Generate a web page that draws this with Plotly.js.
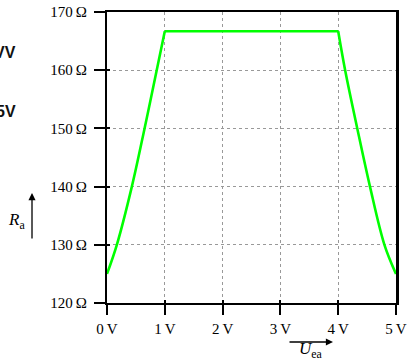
<!DOCTYPE html>
<html>
<head>
<meta charset="utf-8">
<script src="https://cdn.plot.ly/plotly-3.0.1.min.js"></script>
<style>html,body{margin:0;padding:0;background:#fff;}#chart{width:408px;height:360px;}</style>
</head>
<body>
<div id="chart"></div>
<script>
// Data
const uea = [0, 0.17, 0.43, 0.65, 0.86, 1.0, 4.0, 4.12, 4.33, 4.55, 4.8, 5.0];
const ra  = [125, 130, 140, 150, 160, 166.7, 166.7, 160, 150, 140, 130, 125];
const xTickVals = [0, 1, 2, 3, 4, 5];
const xTickText = ['0\u2009V', '1\u2009V', '2\u2009V', '3\u2009V', '4\u2009V', '5\u2009V'];
const yTickVals = [120, 130, 140, 150, 160, 170];
const yTickText = ['120\u2009\u03A9', '130\u2009\u03A9', '140\u2009\u03A9', '150\u2009\u03A9', '160\u2009\u03A9', '170\u2009\u03A9'];

const serif = 'Liberation Serif, DejaVu Serif, serif';
const tickFont = {family: serif, size: 15, color: '#000'};
const lineStyle = {color: '#00ff00', width: 2.6};

// rising flank, plateau, falling flank (flanks are curved, plateau straight)
const traces = [
  {x: uea.slice(0, 6), y: ra.slice(0, 6), type: 'scatter', mode: 'lines',
   line: Object.assign({shape: 'spline', smoothing: 1}, lineStyle), cliponaxis: false, hoverinfo: 'skip', showlegend: false},
  {x: uea.slice(5, 7), y: ra.slice(5, 7), type: 'scatter', mode: 'lines',
   line: lineStyle, cliponaxis: false, hoverinfo: 'skip', showlegend: false},
  {x: uea.slice(6), y: ra.slice(6), type: 'scatter', mode: 'lines',
   line: Object.assign({shape: 'spline', smoothing: 1}, lineStyle), cliponaxis: false, hoverinfo: 'skip', showlegend: false}
];

const layout = {
  width: 408, height: 360,
  margin: {l: 107, r: 12, t: 12, b: 57, pad: 0},
  paper_bgcolor: '#fff', plot_bgcolor: '#fff',
  showlegend: false,
  xaxis: {
    range: [0, 5], fixedrange: true,
    tickvals: xTickVals, ticktext: xTickText,
    ticks: 'outside', ticklen: 10, tickwidth: 2, tickcolor: '#000',
    showline: true, linewidth: 2.2, linecolor: '#000',
    showgrid: true, gridcolor: '#999', gridwidth: 1, griddash: '3px,3px',
    zeroline: false, tickfont: tickFont, ticklabelstandoff: 1
  },
  yaxis: {
    range: [120, 170], fixedrange: true,
    tickvals: yTickVals, ticktext: yTickText,
    ticks: 'outside', ticklen: 11, tickwidth: 2, tickcolor: '#000',
    showline: true, linewidth: 2.2, linecolor: '#000',
    showgrid: true, gridcolor: '#999', gridwidth: 1, griddash: '3px,3px',
    zeroline: false, tickfont: tickFont, ticklabelstandoff: 4
  },
  xaxis2: {
    overlaying: 'x', side: 'top', range: [0, 5], fixedrange: true,
    showline: true, linewidth: 1.7, linecolor: '#000',
    showgrid: false, zeroline: false, showticklabels: false, ticks: ''
  },
  yaxis2: {
    overlaying: 'y', side: 'right', range: [120, 170], fixedrange: true,
    showline: true, linewidth: 3, linecolor: '#000',
    showgrid: false, zeroline: false, showticklabels: false, ticks: ''
  },
  yaxis3: {
    overlaying: 'y', side: 'left', range: [120, 170], fixedrange: true,
    tickvals: yTickVals, ticks: 'inside', ticklen: 3, tickwidth: 2, tickcolor: '#000',
    showline: false, showgrid: false, zeroline: false, showticklabels: false
  },
  xaxis3: {
    overlaying: 'x', side: 'bottom', range: [0, 5], fixedrange: true,
    tickvals: xTickVals, ticks: 'inside', ticklen: 3, tickwidth: 2, tickcolor: '#000',
    showline: false, showgrid: false, zeroline: false, showticklabels: false
  },
  annotations: [
    {xref: 'paper', yref: 'paper', x: -0.2595, y: 0.378, text: '', showarrow: true,
     axref: 'pixel', ayref: 'pixel', ax: 0, ay: 47, arrowhead: 2, arrowsize: 1.1, arrowwidth: 1.3, arrowcolor: '#000'},
    {xref: 'paper', yref: 'paper', x: -0.313, y: 0.283, xanchor: 'center', yanchor: 'middle',
     text: '<i>R</i><sub>a</sub>', showarrow: false, font: {family: serif, size: 17, color: '#000'}},
    {xref: 'paper', yref: 'paper', x: 0.782, y: -0.134, text: '', showarrow: true,
     axref: 'pixel', ayref: 'pixel', ax: -45, ay: 0, arrowhead: 2, arrowsize: 1.1, arrowwidth: 1.3, arrowcolor: '#000'},
    {xref: 'paper', yref: 'paper', x: 0.705, y: -0.161, xanchor: 'center', yanchor: 'middle',
     text: '<i>U</i><sub>ea</sub>', showarrow: false, font: {family: serif, size: 17, color: '#000'}},
    {xref: 'paper', yref: 'paper', x: -0.307, y: 0.861, xanchor: 'right', yanchor: 'middle',
     text: '<b>VV</b>', showarrow: false, font: {family: 'Liberation Sans, Arial, sans-serif', size: 16, color: '#111'}},
    {xref: 'paper', yref: 'paper', x: -0.307, y: 0.658, xanchor: 'right', yanchor: 'middle',
     text: '<b>5V</b>', showarrow: false, font: {family: 'Liberation Sans, Arial, sans-serif', size: 16, color: '#111'}}
  ]
};

// invisible anchors so the overlay axes are drawn
traces.push({x: [0], y: [120], xaxis: 'x2', yaxis: 'y2', mode: 'markers', marker: {opacity: 0}, hoverinfo: 'skip', showlegend: false, type: 'scatter'});
traces.push({x: [0], y: [120], xaxis: 'x3', yaxis: 'y3', mode: 'markers', marker: {opacity: 0}, hoverinfo: 'skip', showlegend: false, type: 'scatter'});

Plotly.newPlot('chart', traces, layout, {staticPlot: true, displayModeBar: false});
</script>
</body>
</html>
